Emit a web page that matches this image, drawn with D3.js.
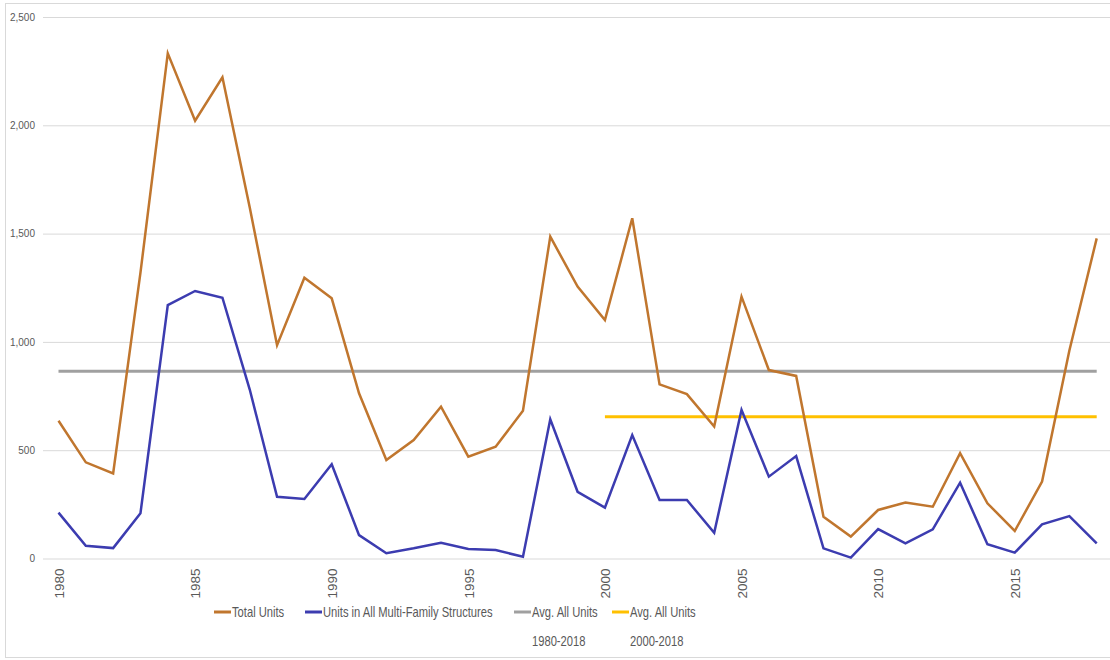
<!DOCTYPE html>
<html>
<head>
<meta charset="utf-8">
<script src="https://cdn.jsdelivr.net/npm/d3@7"></script>
<style>
  html, body { margin: 0; padding: 0; background: #fff; }
  svg { display: block; }
  .lbl { font-family: "Liberation Sans", Arial, sans-serif; fill: #595959; }
</style>
</head>
<body>
<svg id="chart" width="1110" height="660"></svg>
<script>
// Housing units permitted per year
const years = d3.range(1980, 2019);
const totalUnits = [
  636, 444, 393, 1320, 2332, 2021, 2222, 1620, 985, 1296,
  1201, 763, 455, 547, 701, 470, 516, 682, 1486, 1255,
  1101, 1571, 804, 759, 609, 1209, 870, 843, 193, 101,
  224, 258, 239, 486, 255, 127, 355, 960, 1478
];
const multiFamilyUnits = [
  212, 59, 48, 209, 1170, 1235, 1204, 780, 285, 275,
  435, 108, 24, 47, 73, 44, 39, 8, 643, 308,
  235, 570, 270, 270, 119, 686, 378, 473, 47, 4,
  136, 70, 135, 350, 66, 27, 158, 196, 70
];
// Period averages of all units
const avgAll = { from: 1980, to: 2018, value: 865 };
const avgRecent = { from: 2000, to: 2018, value: 655 };

const yTicks = [0, 500, 1000, 1500, 2000, 2500];
const xTicks = [1980, 1985, 1990, 1995, 2000, 2005, 2010, 2015];

const legendItems = [
  { label: ["Total Units"], color: "#C0762E" },
  { label: ["Units in All Multi-Family Structures"], color: "#3C3CB0" },
  { label: ["Avg. All Units", "1980-2018"], color: "#A0A0A0" },
  { label: ["Avg. All Units", "2000-2018"], color: "#FFC000" }
];

const svg = d3.select("#chart");

// outer chart frame
svg.append("rect")
  .attr("x", 5.5).attr("y", 3.5)
  .attr("width", 1120).attr("height", 654)
  .attr("fill", "none").attr("stroke", "#d9d9d9");

const x = d3.scaleLinear().domain([1980, 2018]).range([58.5, 1096.7]);
const y = d3.scaleLinear().domain([0, 2500]).range([558.5, 17]);

// value axis with gridlines
const gridLeft = 43, gridRight = 1112;
const yAxis = svg.append("g")
  .attr("transform", `translate(${gridLeft},0)`)
  .call(d3.axisLeft(y).tickValues(yTicks).tickFormat(d3.format(","))
    .tickSize(-(gridRight - gridLeft)).tickPadding(8));
yAxis.select(".domain").remove();
yAxis.selectAll(".tick line").attr("stroke", "#d9d9d9").attr("stroke-width", 1);
yAxis.selectAll(".tick text")
  .attr("class", "lbl")
  .style("font-size", "10px")
  .attr("fill", "#595959");

// year axis, labels rotated
const xAxis = svg.append("g")
  .attr("transform", `translate(0,${y(0)})`)
  .call(d3.axisBottom(x).tickValues(xTicks).tickFormat(d3.format("d")).tickSize(0));
xAxis.select(".domain").remove();
xAxis.selectAll(".tick text")
  .attr("class", "lbl")
  .style("font-size", "13.5px")
  .attr("fill", "#595959")
  .attr("text-anchor", "end")
  .attr("transform", "rotate(-90)")
  .attr("x", -10)
  .attr("y", 0)
  .attr("dy", "0.35em");

// average reference lines
function avgLine(a, color) {
  svg.append("line")
    .attr("x1", x(a.from)).attr("x2", x(a.to))
    .attr("y1", y(a.value)).attr("y2", y(a.value))
    .attr("stroke", color).attr("stroke-width", 3);
}
avgLine(avgAll, "#A0A0A0");
avgLine(avgRecent, "#FFC000");

// data series
const line = d3.line().x((d, i) => x(years[i])).y(d => y(d));
svg.append("path").datum(multiFamilyUnits)
  .attr("d", line).attr("fill", "none")
  .attr("stroke", "#3C3CB0").attr("stroke-width", 2.5)
  .attr("stroke-linejoin", "miter");
svg.append("path").datum(totalUnits)
  .attr("d", line).attr("fill", "none")
  .attr("stroke", "#C0762E").attr("stroke-width", 2.5)
  .attr("stroke-linejoin", "miter");

// legend (labels horizontally condensed)
const legendX = [214, 305, 514, 612];
const legend = svg.append("g");
legendItems.forEach((item, i) => {
  const g = legend.append("g").attr("transform", `translate(${legendX[i]},612)`);
  g.append("line").attr("x1", 0).attr("x2", 17).attr("y1", 0).attr("y2", 0)
    .attr("stroke", item.color).attr("stroke-width", 3);
  const tg = g.append("g").attr("transform", "translate(18,0) scale(0.8,1)");
  item.label.forEach((t, j) => {
    tg.append("text").attr("class", "lbl")
      .attr("x", 0).attr("y", j * 29).attr("dy", "0.35em")
      .style("font-size", "14px")
      .text(t);
  });
});
</script>
</body>
</html>
